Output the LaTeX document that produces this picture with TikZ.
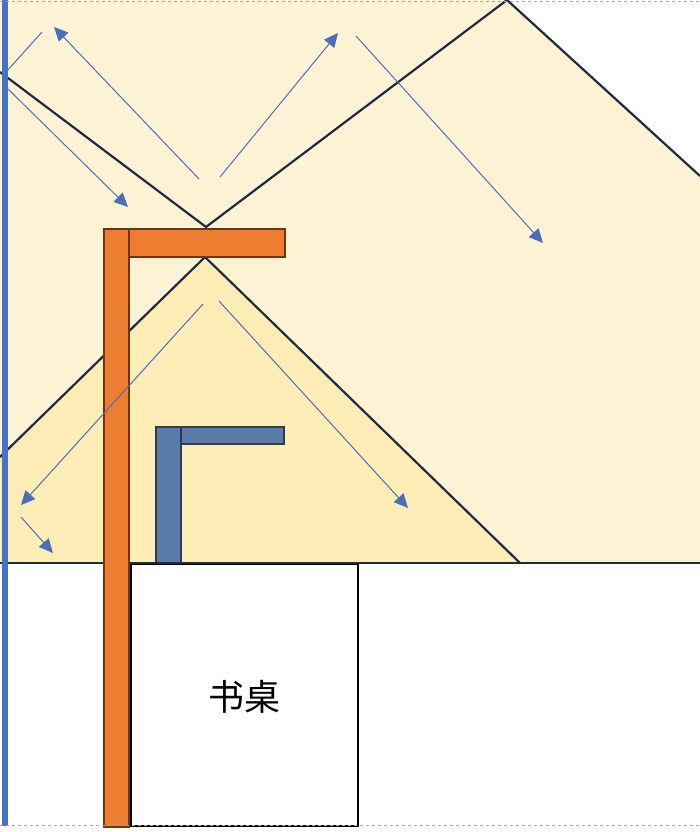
\documentclass[tikz,border=0pt]{standalone}
\usepackage{fontspec}
\newfontfamily\cjk{Noto Sans CJK SC}
\usetikzlibrary{arrows.meta}
\definecolor{wallblue}{HTML}{4472C4}
\definecolor{raycol}{HTML}{4A6FB8}
\definecolor{edgenavy}{HTML}{1F2B3E}
\definecolor{lampor}{HTML}{ED7D31}
\definecolor{lampbr}{HTML}{6E3510}
\definecolor{lampbl}{HTML}{5B7BAA}
\definecolor{lampbd}{HTML}{2E3B4E}
\definecolor{lightA}{HTML}{FFF3D5}
\definecolor{lightB}{HTML}{FFEDB8}
\tikzset{
  ray/.style={draw=raycol, line width=1pt, -{Triangle[length=14pt,width=13pt]}},
  rayline/.style={draw=raycol, line width=1pt},
  beam/.style={draw=edgenavy, line width=2.2pt},
  orangepart/.style={fill=lampor, draw=lampbr, line width=1.6pt},
  bluepart/.style={fill=lampbl, draw=lampbd, line width=1.8pt},
  border/.style={draw=gray!70, dashed, line width=0.7pt},
}
\begin{document}
\begin{tikzpicture}[x=1pt,y=-1pt]
\useasboundingbox (0,0) rectangle (700,832);
% light areas
\fill[lightA] (0,0) -- (507,0) -- (700,176) -- (700,563) -- (0,563) -- cycle;
\fill[lightB] (205,257) -- (0,457) -- (0,563) -- (520,563) -- cycle;
% beam edges
\coordinate (vl) at (0,72);
\coordinate (va) at (206,227);
\coordinate (vr) at (507,0);
\coordinate (ce) at (700,176);
\draw[beam] (vl) -- (va) -- (vr) -- (ce);
\coordinate (ll) at (0,457);
\coordinate (la) at (205,257);
\coordinate (lr) at (520,563);
\draw[beam] (ll) -- (la) -- (lr);
% blue lamp
\node[bluepart, minimum width=25pt, minimum height=137pt, inner sep=0pt, anchor=north west] (bpole) at (155,426) {};
\node[bluepart, minimum width=103pt, minimum height=17pt, inner sep=0pt, anchor=north west] (barm) at (180,426) {};
% desk
\node[draw=black, fill=white, line width=1.8pt, minimum width=227pt, minimum height=262pt, inner sep=0pt, anchor=north west] (desk) at (130,563) {};
\node[font=\cjk\fontsize{36}{36}\selectfont] (desklabel) at (244,697) {书桌};
% floor
\coordinate (f1) at (0,563);
\coordinate (f2) at (700,563);
\draw[edgenavy, line width=2.4pt] (f1) -- (f2);
% orange lamp
\node[orangepart, minimum width=25pt, minimum height=598pt, inner sep=0pt, anchor=north west] (opole) at (103,228) {};
\node[orangepart, minimum width=156pt, minimum height=28pt, inner sep=0pt, anchor=north west] (oarm) at (128,228) {};
% rays
\coordinate (r1a) at (42,32);   \coordinate (r1b) at (7,71);
\draw[rayline] (r1a) -- (r1b);
\coordinate (r2a) at (7,88);    \coordinate (r2b) at (128,207);
\draw[ray] (r2a) -- (r2b);
\coordinate (r3a) at (199,179); \coordinate (r3b) at (54,27);
\draw[ray] (r3a) -- (r3b);
\coordinate (r4a) at (220,177); \coordinate (r4b) at (338,33);
\draw[ray] (r4a) -- (r4b);
\coordinate (r5a) at (356,36);  \coordinate (r5b) at (543,243);
\draw[ray] (r5a) -- (r5b);
\coordinate (r6a) at (203,304); \coordinate (r6b) at (21,505);
\draw[ray] (r6a) -- (r6b);
\coordinate (r7a) at (21,517);  \coordinate (r7b) at (53,553);
\draw[ray] (r7a) -- (r7b);
\coordinate (r8a) at (219,301); \coordinate (r8b) at (408,508);
\draw[ray] (r8a) -- (r8b);
% wall
\coordinate (w1) at (5,0);
\coordinate (w2) at (5,826);
\draw[wallblue, line width=6pt] (w1) -- (w2);
% page borders
\coordinate (t1) at (0,1);   \coordinate (t2) at (700,1);
\coordinate (b1) at (0,825); \coordinate (b2) at (700,825);
\draw[border] (t1) -- (t2);
\draw[border] (b1) -- (b2);
\end{tikzpicture}
\end{document}
